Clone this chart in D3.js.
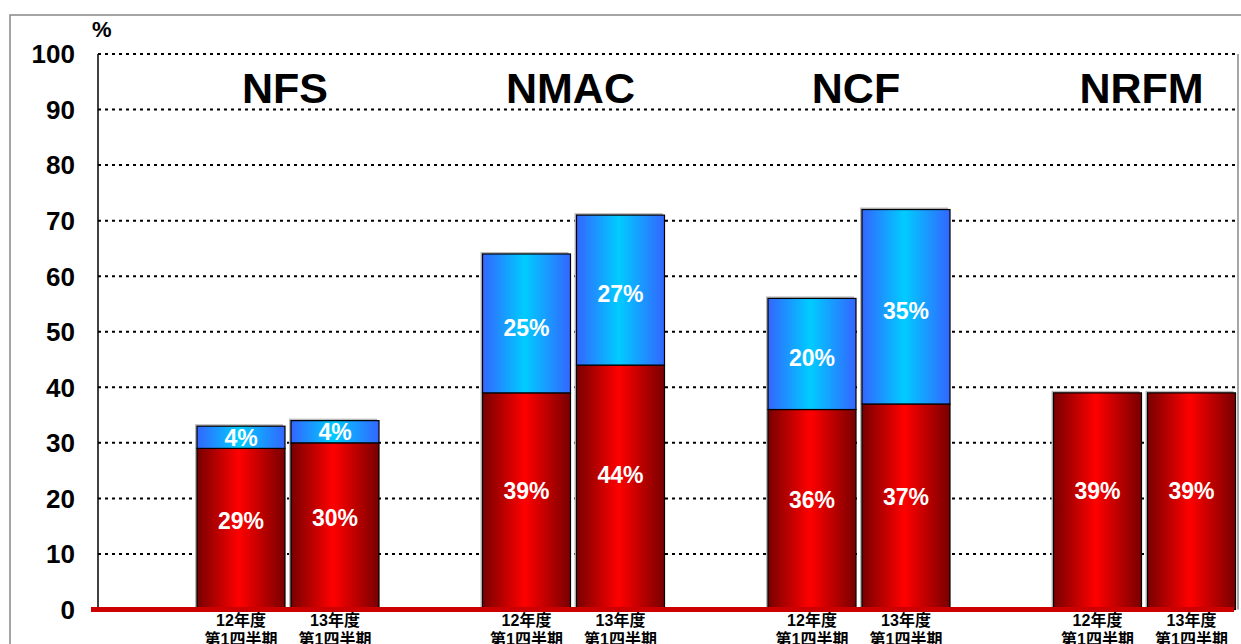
<!DOCTYPE html>
<html>
<head>
<meta charset="utf-8">
<script src="https://cdn.jsdelivr.net/npm/d3@7"></script>
<style>
  html, body { margin: 0; padding: 0; background: #fff; overflow: hidden; }
  text { font-family: "Liberation Sans", Arial, "Noto Sans CJK JP", sans-serif; font-weight: bold; }
</style>
</head>
<body>
<svg id="chart" width="1241" height="644"></svg>
<script>
// Chart data
const groups = ['NFS', 'NMAC', 'NCF', 'NRFM'];
const periodLine1 = ['12年度', '13年度'];
const periodLine2 = ['第1四半期', '第1四半期'];
// lower (red) segment per group, per period
const redValues = [[29, 30], [39, 44], [36, 37], [39, 39]];
// upper (blue) segment per group, per period
const blueValues = [[4, 4], [25, 27], [20, 35], [0, 0]];
const yTicks = [0, 10, 20, 30, 40, 50, 60, 70, 80, 90, 100];

const svg = d3.select('#chart');
const plot = { left: 98, right: 1240, top: 54, bottom: 609.5 };

const y = d3.scaleLinear().domain([0, 100]).range([plot.bottom, plot.top]);
const x0 = d3.scaleBand().domain(groups).range([plot.left, plot.right]);
const x1 = d3.scaleBand().domain(d3.range(periodLine1.length))
  .range([99, 281]).paddingInner(6 / 94).paddingOuter(0);

// Gradients
const defs = svg.append('defs');
function gradient(id, edge, mid) {
  const g = defs.append('linearGradient').attr('id', id)
    .attr('x1', '0%').attr('x2', '100%').attr('y1', '0%').attr('y2', '0%');
  g.append('stop').attr('offset', '0%').attr('stop-color', edge);
  g.append('stop').attr('offset', '48%').attr('stop-color', mid);
  g.append('stop').attr('offset', '100%').attr('stop-color', edge);
}
gradient('redGrad', '#780000', '#ff0000');
gradient('blueGrad', '#3366ff', '#00ccff');

// Outer frame
svg.append('rect')
  .attr('x', 10).attr('y', 15).attr('width', 1300).attr('height', 700)
  .attr('fill', 'none').attr('stroke', '#888').attr('stroke-width', 1.5);

// Right plot edge
svg.append('line')
  .attr('x1', 1238).attr('x2', 1238).attr('y1', plot.top).attr('y2', plot.bottom)
  .attr('stroke', '#888').attr('stroke-width', 1.5);

// Dotted gridlines
svg.selectAll('.grid')
  .data(yTicks.filter(d => d > 0))
  .enter().append('line')
  .attr('class', 'grid')
  .attr('x1', plot.left).attr('x2', 1236)
  .attr('y1', d => y(d)).attr('y2', d => y(d))
  .attr('stroke', '#000').attr('stroke-width', 2)
  .attr('stroke-dasharray', '3,4');

// Y axis line
svg.append('line')
  .attr('x1', plot.left).attr('x2', plot.left)
  .attr('y1', plot.top).attr('y2', plot.bottom)
  .attr('stroke', '#000').attr('stroke-width', 1.5);

// Y tick labels
svg.selectAll('.ytick')
  .data(yTicks)
  .enter().append('text')
  .attr('class', 'ytick')
  .attr('x', 75).attr('y', d => y(d))
  .attr('dy', '0.36em')
  .attr('text-anchor', 'end')
  .style('font-size', '26px')
  .text(d => d);

svg.append('text')
  .attr('x', 92).attr('y', 37)
  .style('font-size', '22px')
  .text('%');

// Bars
const bars = [];
groups.forEach((g, gi) => {
  periodLine1.forEach((p, pi) => {
    bars.push({ group: g, period: pi, red: redValues[gi][pi], blue: blueValues[gi][pi] });
  });
});

const barX = d => x0(d.group) + x1(d.period);
const bw = x1.bandwidth();

const bar = svg.selectAll('.bar')
  .data(bars)
  .enter().append('g')
  .attr('class', 'bar');

// soft shadow
bar.append('rect')
  .attr('x', d => barX(d) - 2)
  .attr('y', d => y(d.red + d.blue) - 2)
  .attr('width', bw)
  .attr('height', d => plot.bottom - y(d.red + d.blue))
  .attr('fill', '#bbb');

bar.append('rect')
  .attr('x', barX)
  .attr('y', d => y(d.red))
  .attr('width', bw)
  .attr('height', d => plot.bottom - y(d.red))
  .attr('fill', 'url(#redGrad)')
  .attr('stroke', '#000').attr('stroke-width', 1.2);

bar.filter(d => d.blue > 0).append('rect')
  .attr('x', barX)
  .attr('y', d => y(d.red + d.blue))
  .attr('width', bw)
  .attr('height', d => y(d.red) - y(d.red + d.blue))
  .attr('fill', 'url(#blueGrad)')
  .attr('stroke', '#000').attr('stroke-width', 1.2);

// Value labels
bar.append('text')
  .attr('x', d => barX(d) + bw / 2)
  .attr('y', d => y(d.red * 0.55))
  .attr('dy', '0.36em')
  .attr('text-anchor', 'middle')
  .style('font-size', '23px').style('fill', '#fff')
  .text(d => d.red + '%');

bar.filter(d => d.blue > 0).append('text')
  .attr('x', d => barX(d) + bw / 2)
  .attr('y', d => (y(d.red) + y(d.red + d.blue)) / 2 + (d.blue > 5 ? 4 : 0))
  .attr('dy', '0.36em')
  .attr('text-anchor', 'middle')
  .style('font-size', '23px').style('fill', '#fff')
  .text(d => d.blue + '%');

// Red baseline
svg.append('line')
  .attr('x1', 91).attr('x2', 1234)
  .attr('y1', plot.bottom).attr('y2', plot.bottom)
  .attr('stroke', '#cc0000').attr('stroke-width', 5);

// Group titles
svg.selectAll('.title')
  .data(groups)
  .enter().append('text')
  .attr('class', 'title')
  .attr('x', g => x0(g) + x1(0) + (x1(1) + bw - x1(0)) / 2 - 3)
  .attr('y', 103)
  .attr('text-anchor', 'middle')
  .style('font-size', '43px')
  .text(g => g);

// Category labels
const cat = bar.append('text')
  .attr('text-anchor', 'middle')
  .style('font-size', '16px')
  .style('fill', '#000');
cat.append('tspan')
  .attr('x', d => barX(d) + bw / 2)
  .attr('y', 626)
  .text(d => periodLine1[d.period]);
cat.append('tspan')
  .attr('x', d => barX(d) + bw / 2)
  .attr('y', 645)
  .text(d => periodLine2[d.period]);
</script>
</body>
</html>
